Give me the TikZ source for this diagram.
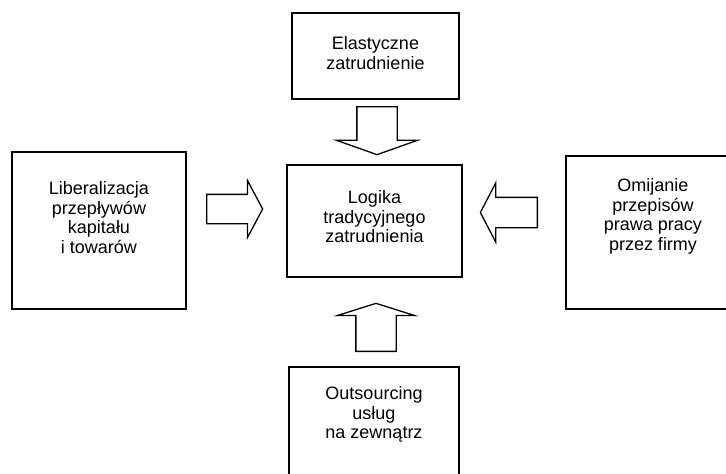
\documentclass[tikz,border=0pt]{standalone}
\usepackage{fontspec}
\setmainfont{Liberation Sans}
\usetikzlibrary{positioning, shapes.arrows}
\tikzset{%
	box/.style = {name = #1, draw, line width = 1.4pt, inner sep = 0pt},
	txt/.style = {align = center, inner sep = 0pt, font = \fontsize{18}{19.5}\selectfont},
	blk/.style = {name = #1, single arrow, draw, line width = 1.3pt, inner sep = 0pt,
		text width = 0pt, text height = 0pt, text depth = 0pt,
		single arrow head indent = 0pt, anchor = tail}
}
\begin{document}
\begin{tikzpicture}[x = 1pt, y = -1pt]
			\useasboundingbox (0,0) rectangle (726,474);
			\clip (0,0) rectangle (726,474);
			\node [box = {elast}, minimum width = 167pt, minimum height = 86pt] at (375.5,56) {};
			\node [box = {logika}, minimum width = 175pt, minimum height = 112pt] at (374.5,221) {};
			\node [box = {liberal}, minimum width = 174pt, minimum height = 157pt] at (99,230.5) {};
			\node [box = {omij}, minimum width = 174pt, minimum height = 153pt] at (653,232.5) {};
			\node [box = {outs}, minimum width = 170pt, minimum height = 112pt] at (374,423) {};
			\node [txt, below = 24pt of elast.north] (elast-t) {Elastyczne\\zatrudnienie};
			\node [txt, below = 26pt of logika.north] (logika-t) {Logika\\tradycyjnego\\zatrudnienia};
			\node [txt, below = 30pt of liberal.north] (liberal-t) {Liberalizacja\\przepływów\\kapitału\\i towarów};
			\node [txt, below = 23pt of omij.north] (omij-t) {Omijanie\\przepisów\\prawa pracy\\przez firmy};
			\node [txt, below = 20pt of outs.north] (outs-t) {Outsourcing\\usług\\na zewnątrz};
			\node [blk = {a-gora}, shape border rotate = 270, minimum height = 48pt, inner sep = 19.5pt,
				single arrow head extend = 20.5pt, single arrow tip angle = 141] at (377,106) {};
			\node [blk = {a-dol}, shape border rotate = 90, minimum height = 48pt, inner sep = 19.5pt,
				single arrow head extend = 18.5pt, single arrow tip angle = 145] at (376,352) {};
			\node [blk = {a-lewo}, minimum height = 56pt, inner sep = 14pt,
				single arrow head extend = 14pt, single arrow tip angle = 124] at (206,209) {};
			\node [blk = {a-prawo}, shape border rotate = 180, minimum height = 57pt, inner sep = 14.5pt,
				single arrow head extend = 14.5pt, single arrow tip angle = 125] at (538,212.5) {};
\end{tikzpicture}
\end{document}
